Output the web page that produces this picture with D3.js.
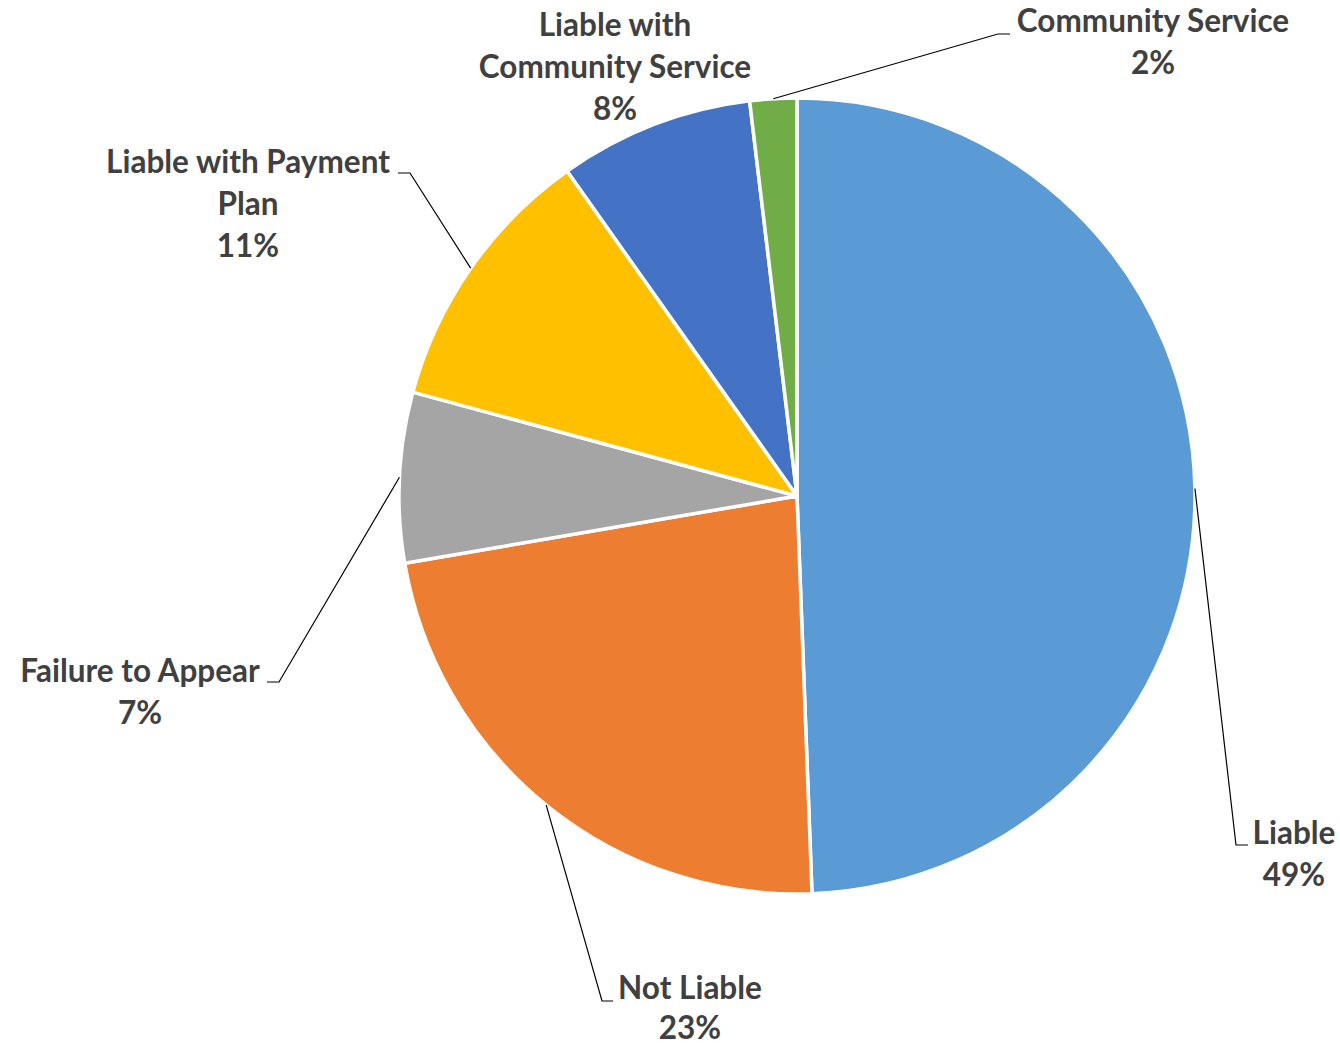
<!doctype html>
<html>
<head>
    <meta charset="utf-8">
    <script src="https://d3js.org/d3.v7.min.js"></script>
    <style>
        html, body { margin: 0; padding: 0; background: #fff; }

        svg text {
            fill: #404040;
            font: bold 31.5px Lato, "Open Sans", sans-serif;
            text-anchor: middle;
        }

        svg .leader {
            fill: none;
            stroke: #000;
            stroke-width: 1.2;
        }
    </style>
</head>
<body>

<script>
    // data (clockwise from 12 o'clock)
    let categories = ["Liable", "Not Liable", "Failure to Appear", "Liable with Payment Plan",
                      "Liable with Community Service", "Community Service"];
    let values = [49.4, 22.9, 6.9, 11.0, 7.9, 1.9];
    let colors = ["#5B9BD5", "#ED7D31", "#A5A5A5", "#FFC000", "#4472C4", "#70AD47"];

    // how each label wraps
    let labelLines = [["Liable"], ["Not Liable"], ["Failure to Appear"], ["Liable with Payment", "Plan"],
                      ["Liable with", "Community Service"], ["Community Service"]];

    // label placement: text centre x, first baseline y, leader elbow and leader end (null = no leader)
    let labelPos = [
        {x: 1294, y: 844, elbow: [1236, 845], end: [1248, 845]},
        {x: 690, y: 999, elbow: [602, 1001], end: [613, 1001]},
        {x: 140, y: 682, elbow: [279, 682], end: [267, 682]},
        {x: 248, y: 173, elbow: [410, 173], end: [398, 173]},
        {x: 615, y: 36, elbow: null, end: null},
        {x: 1153, y: 32, elbow: [998, 34], end: [1010, 34]}
    ];

    let width = 1340,
        height = 1047,
        cx = 797,
        cy = 496,
        radius = 398,
        lineGap = 42;

    let total = d3.sum(values);
    let data = categories.map((c, i) => ({name: c, value: values[i], color: colors[i],
                                          lines: labelLines[i], pos: labelPos[i]}));

    let pie = d3.pie()
                .sort(null)
                .value(d => d.value);

    let arc = d3.arc()
                .innerRadius(0)
                .outerRadius(radius);

    // zero-width ring on the pie edge, used for where leaders touch the slice
    let edge = d3.arc()
                 .innerRadius(radius)
                 .outerRadius(radius);

    let svg = d3.select("body")
                .append("svg")
                .attr("width", width)
                .attr("height", height);

    let g = svg.append("g")
               .attr("transform", "translate(" + cx + "," + cy + ")");

    let arcs = pie(data);

    g.selectAll("path.slice")
     .data(arcs)
     .enter()
     .append("path")
     .attr("class", "slice")
     .attr("d", arc)
     .attr("fill", d => d.data.color)
     .attr("stroke", "#fff")
     .attr("stroke-width", 3.5)
     .attr("stroke-linejoin", "round");

    // leader lines: slice edge -> elbow -> short horizontal tick by the label
    svg.selectAll("path.leader")
       .data(arcs.filter(d => d.data.pos.elbow))
       .enter()
       .append("path")
       .attr("class", "leader")
       .attr("d", d => {
           let p = edge.centroid(d);
           return d3.line()([[p[0] + cx, p[1] + cy], d.data.pos.elbow, d.data.pos.end]);
       });

    let labels = svg.selectAll("text")
                    .data(arcs)
                    .enter()
                    .append("text")
                    .attr("x", d => d.data.pos.x)
                    .attr("y", d => d.data.pos.y);

    labels.each(function (d) {
        let t = d3.select(this);
        let lines = d.data.lines.concat([Math.round(d.data.value / total * 100) + "%"]);
        lines.forEach((s, i) => {
            t.append("tspan")
             .attr("x", d.data.pos.x)
             .attr("dy", i === 0 ? 0 : (d.data.name === "Not Liable" ? lineGap - 2 : lineGap))
             .text(s);
        });
    });

</script>
</body>
</html>
